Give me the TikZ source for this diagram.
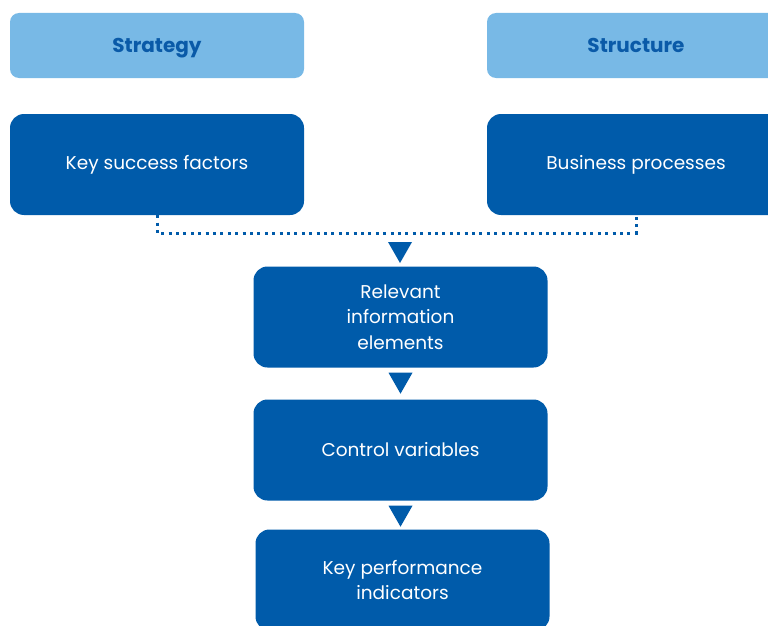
\documentclass[tikz,border=0pt]{standalone}
\usepackage{fontspec}
\setmainfont{Poppins}
\usetikzlibrary{positioning}

\definecolor{lightblue}{HTML}{78B9E6}
\definecolor{darkblue}{HTML}{005BAA}
\definecolor{headblue}{HTML}{0A5AA8}

\tikzset{
  headbox/.style={fill=lightblue, rounded corners=9, minimum width=294, minimum height=65,
    text height=14, text depth=0,
    font=\fontsize{20}{24}\selectfont\bfseries, text=headblue},
  stepbox/.style={fill=darkblue, rounded corners=14, minimum width=294, minimum height=101,
    font=\fontsize{18.5}{25.5}\selectfont, text=white, align=center},
  tip/.style={fill=darkblue}
}

\begin{document}
\begin{tikzpicture}[x=1pt, y=1pt]
    \useasboundingbox (0, 0) rectangle (768, -626);
    \clip (0, 0) rectangle (768, -626);

    % top row
    \node[headbox] (strategy) at (157, -45.5) {Strategy};
    \node[headbox, minimum width=298] (structure) at (636, -45.5) {Structure};
    \node[stepbox] (ksf) at (157, -164.5) {Key success factors};
    \node[stepbox, minimum width=298] (bp) at (636, -164.5) {Business processes};

    % chain
    \node[stepbox] (rie) at (400.5, -317) {Relevant\\information\\elements};
    \node[stepbox] (cv) at (400.5, -450) {Control variables};
    \node[stepbox] (kpi) at (402.5, -580) {Key performance\\indicators};

    % dotted join
    \coordinate (joinL) at ([yshift=-18] ksf.south);
    \coordinate (joinR) at ([yshift=-18] bp.south);
    \draw[darkblue, line width=3, dash pattern=on 3 off 4.4] (ksf.south) -- (joinL) -- (joinR) -- (bp.south);

    % triangles
    \fill[tip] (388, -242) -- (412, -242) -- (400, -263) -- cycle;
    \fill[tip] ([xshift=-12, yshift=-5] rie.south) -- ([xshift=12, yshift=-5] rie.south) -- ([yshift=-26] rie.south) -- cycle;
    \fill[tip] ([xshift=-12, yshift=-5] cv.south) -- ([xshift=12, yshift=-5] cv.south) -- ([yshift=-26] cv.south) -- cycle;
\end{tikzpicture}
\end{document}
